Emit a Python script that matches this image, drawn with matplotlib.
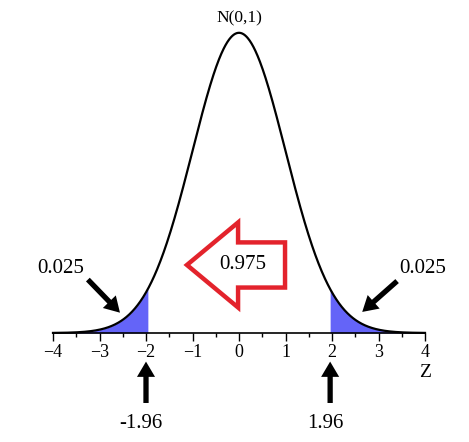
import numpy as np
import matplotlib
matplotlib.use("Agg")
from matplotlib import pyplot as plt
from matplotlib import patches

# data
z_lo, z_hi = -4, 4
crit = 1.96
tail_area = "0.025"
mid_area = "0.975"
tick_vals = [-4, -3, -2, -1, 0, 1, 2, 3, 4]
crit_labels = ["-1.96", "1.96"]

plt.rcParams['font.family'] = ['Liberation Serif', 'DejaVu Serif']

W, H = 469, 442
fig = plt.figure(figsize=(W / 100, H / 100), dpi=100)
ax = fig.add_axes([53 / W, (H - 333) / H, (425 - 53) / W, (333 - 32) / H])

z = np.linspace(z_lo, z_hi, 801)
pdf = np.exp(-z ** 2 / 2) / np.sqrt(2 * np.pi)

ax.fill_between(z, 0, pdf, where=z <= -crit, color='#6464f8', lw=0)
ax.fill_between(z, 0, pdf, where=z >= crit, color='#6464f8', lw=0)
ax.plot(z, pdf, color='k', lw=1.6, clip_on=False)

ax.set_xlim(z_lo, z_hi)
ax.set_ylim(0, 0.4)
for s in ['left', 'right', 'top']:
    ax.spines[s].set_visible(False)
ax.spines['bottom'].set_linewidth(1.2)
ax.set_yticks([])
ax.set_xticks(tick_vals)
ax.set_xticklabels(['\u2212%d' % -t if t < 0 else str(t) for t in tick_vals])
ax.set_xticks(np.arange(z_lo, z_hi + 0.01, 0.5), minor=True)
ax.tick_params(axis='x', which='major', length=6, width=1, labelsize=13, pad=2)
ax.tick_params(axis='x', which='minor', length=3, width=1)

ax.text(4.0, -0.052, 'Z', fontsize=14, ha='center', va='center', clip_on=False)
ax.text(0, 0.408, 'N(0,1)', fontsize=12.5, ha='center', va='bottom', clip_on=False)

# arrows under critical values
blk = dict(arrowstyle='simple,head_length=1.1,head_width=1.3,tail_width=0.38',
           mutation_scale=10, color='k', lw=0, shrinkA=0, shrinkB=0)
for x, lab in zip([-crit, crit], crit_labels):
    xp = x - 0.04 if x < 0 else x
    ax.annotate('', xy=(xp, -0.038), xytext=(xp, -0.093),
                arrowprops=blk, annotation_clip=False)
    ax.text(xp - 0.1, -0.12, lab, fontsize=15, ha='center', va='center',
            clip_on=False)

# tail labels with arrows
ax.text(-3.83, 0.086, tail_area, fontsize=15, ha='center', va='center')
ax.text(3.95, 0.086, tail_area, fontsize=15, ha='center', va='center')
ax.annotate('', xy=(-2.56, 0.027), xytext=(-3.25, 0.071), arrowprops=blk)
ax.annotate('', xy=(2.65, 0.028), xytext=(3.40, 0.069), arrowprops=blk)

# big red hollow arrow
red = patches.FancyArrow(0.99, 0.0904, -2.11, 0, width=0.06, head_width=0.113,
                         head_length=1.1, length_includes_head=True,
                         fill=False, ec='#e3232c', lw=3.2, joinstyle='miter')
ax.add_patch(red)
ax.text(0.08, 0.0904, mid_area, fontsize=15, ha='center', va='center')

fig.savefig('out.png', dpi=100)
